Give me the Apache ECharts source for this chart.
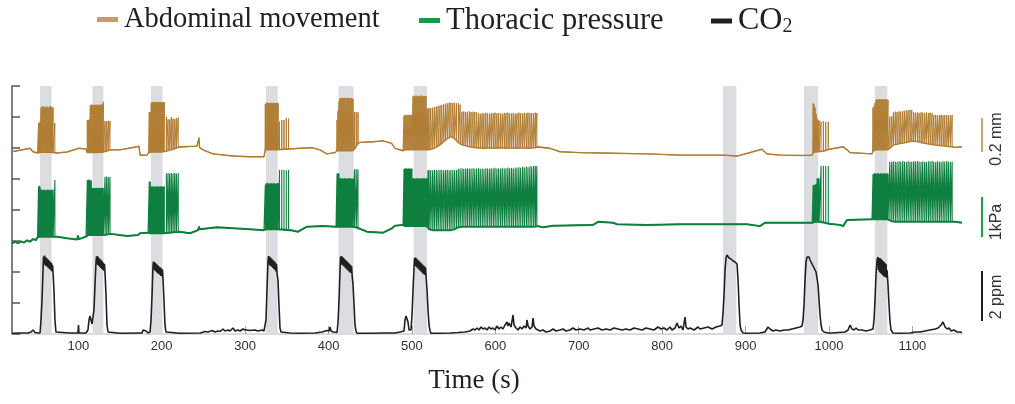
<!DOCTYPE html>
<html>
<head>
<meta charset="utf-8">
<title>Breathing response to CO2</title>
<script src="https://cdn.jsdelivr.net/npm/echarts@6/dist/echarts.min.js"></script>
<style>
  html, body { margin: 0; padding: 0; background: #ffffff; }
  #chart { width: 1015px; height: 404px; }
</style>
</head>
<body>
<div id="chart"></div>
<script>
// ---- Recording data (time in s) ----
// CO2 exposure windows [start, end]
const stimWindows = [[54, 68], [117, 130], [187, 201], [325, 339], [412, 430], [502, 518], [873, 889], [970, 987], [1055, 1070]];

// x-axis tick labels
const tickTimes = [100, 200, 300, 400, 500, 600, 700, 800, 900, 1000, 1100];

// Abdominal movement: slow baseline [t, level]
const abdBaseline = [
  [20.5, 5.88], [42.1, 5.99], [45.7, 5.88], [51.1, 5.84],
  [74.4, 5.84], [86.4, 5.87], [100.4, 5.99], [101.0, 6.04], [101.6, 5.99], [109.2, 5.97],
  [140.4, 5.94], [150.0, 5.94], [170.4, 6.04], [172.8, 6.06], [174.0, 5.77], [182.4, 5.77], [184.2, 5.84],
  [221.9, 6.04], [242.3, 6.06], [244.2, 6.06], [244.7, 6.32], [245.3, 6.02], [249.5, 5.94], [261.5, 5.81], [285.5, 5.74], [305.9, 5.72], [322.6, 5.72],
  [353.8, 5.97], [365.8, 5.99], [379.8, 6.01], [389.8, 5.94], [397.8, 5.81], [407.8, 5.85],
  [437.7, 6.18], [453.3, 6.20], [465.3, 6.23], [475.7, 6.15], [479.7, 5.99], [489.3, 5.91],
  [651.2, 6.04], [665.5, 5.99], [677.5, 5.88], [701.5, 5.85], [741.1, 5.83], [781.9, 5.81], [821.4, 5.77], [873.0, 5.77], [889.8, 5.74], [919.7, 5.96], [925.7, 5.81], [941.3, 5.77], [968.9, 5.76], [979.9, 5.77],
  [1001.3, 5.99], [1016.9, 6.04], [1021.7, 5.94], [1025.3, 5.85], [1051.6, 5.81],
  [1151.1, 6.02], [1159.5, 6.04]
];

// Abdominal movement: breaths [t, trough, peak]
const abdBreaths = [
  [52.3,5.85,6.80],[53.3,5.85,6.82],[54.3,5.85,6.85],[55.4,5.85,7.30],[56.6,5.86,7.33],[57.8,5.86,7.35],[59.0,5.86,7.32],[60.2,5.86,7.30],[61.4,5.86,7.34],[62.6,5.86,7.33],[63.8,5.86,7.30],[65.0,5.86,7.32],[66.2,5.86,7.35],[67.4,5.85,7.33],[68.6,5.85,7.31],[69.8,5.85,7.30],[71.9,5.84,6.81],
  [110.8,5.85,6.90],[112.0,5.85,6.90],[113.2,5.85,6.92],[114.4,5.85,7.38],[115.6,5.85,7.40],[116.8,5.85,7.39],[118.0,5.85,7.37],[119.2,5.85,7.40],[120.4,5.85,7.39],[121.6,5.85,7.38],[122.8,5.85,7.40],[124.0,5.85,7.39],[125.2,5.86,7.37],[126.4,5.86,7.40],[127.6,5.86,7.39],[128.8,5.86,7.41],[130.0,5.87,7.49],[132.0,5.88,6.87],[134.0,5.90,6.86],[136.0,5.92,6.88],[138.0,5.93,6.87],
  [185.1,5.86,7.16],[186.3,5.87,7.16],[187.5,5.87,7.46],[188.7,5.87,7.48],[189.9,5.87,7.47],[191.1,5.87,7.49],[192.3,5.87,7.48],[193.5,5.87,7.46],[194.7,5.87,7.48],[195.9,5.87,7.49],[197.1,5.87,7.47],[198.3,5.87,7.48],[199.5,5.87,7.46],[200.7,5.87,7.48],[201.9,5.88,7.47],[203.1,5.88,7.48],[205.6,5.90,7.01],[207.6,5.92,6.93],[209.6,5.93,6.92],[211.6,5.95,7.00],[213.6,5.96,6.95],[215.6,5.98,6.93],[217.6,6.00,6.97],[219.8,6.02,6.98],
  [324.2,5.94,7.42],[325.4,5.94,7.45],[326.6,5.94,7.46],[327.8,5.94,7.45],[329.0,5.94,7.44],[330.2,5.94,7.46],[331.4,5.94,7.45],[332.6,5.94,7.44],[333.8,5.94,7.46],[335.0,5.94,7.45],[336.2,5.94,7.44],[337.4,5.94,7.45],[338.6,5.94,7.46],[339.6,5.95,7.44],[341.2,5.95,6.85],[343.9,5.95,6.90],[346.6,5.96,6.90],[349.4,5.96,6.97],[352.1,5.97,6.95],
  [410.2,5.91,6.90],[411.4,5.91,7.20],[412.6,5.91,7.50],[413.8,5.91,7.60],[415.0,5.91,7.61],[416.2,5.91,7.62],[417.4,5.91,7.61],[418.6,5.91,7.60],[419.8,5.91,7.62],[421.0,5.91,7.61],[422.2,5.91,7.60],[423.4,5.91,7.62],[424.6,5.91,7.61],[425.8,5.91,7.60],[427.0,5.91,7.61],[428.2,5.91,7.60],[429.4,5.92,7.58],[431.1,5.95,7.16],[433.2,6.05,7.16],[435.3,6.15,7.15],
  [490.5,5.93,7.04],[491.7,5.94,7.06],[492.9,5.94,7.07],[494.1,5.94,7.05],[495.3,5.94,7.06],[496.5,5.94,7.07],[497.7,5.94,7.06],[498.9,5.94,7.05],[500.1,5.94,7.08],
  [501.3,5.94,7.66],[502.5,5.94,7.68],[503.7,5.94,7.67],[504.9,5.94,7.69],[506.1,5.94,7.68],[507.3,5.94,7.66],[508.5,5.94,7.68],[509.7,5.94,7.67],[510.9,5.94,7.69],[512.1,5.94,7.68],[513.3,5.94,7.66],[514.5,5.94,7.67],[515.7,5.94,7.68],[516.9,5.94,7.66],
  [518.1,5.94,7.28],[519.3,5.94,7.27],[520.5,5.94,7.28],
  [522.6,5.95,7.29],[524.9,5.97,7.30],[527.0,6.00,7.32],[529.3,6.03,7.34],[531.4,6.06,7.35],[533.7,6.10,7.37],[535.8,6.15,7.39],[538.1,6.20,7.41],[540.3,6.25,7.43],[542.4,6.30,7.44],[544.7,6.35,7.46],[546.8,6.37,7.46],
  [549.1,6.35,7.45],[551.2,6.30,7.46],[553.5,6.24,7.44],[555.7,6.17,7.45],[557.8,6.12,7.40],
  [560.1,6.10,7.17],[562.2,6.08,7.18],[564.5,6.07,7.16],[566.6,6.05,7.17],[568.9,6.04,7.18],[571.0,6.03,7.16],[573.3,6.02,7.17],[575.4,6.01,7.16],[577.6,6.00,7.15],
  [579.9,6.00,7.12],[582.0,6.00,7.10],[584.3,6.00,7.13],[586.4,5.99,7.11],[588.7,6.00,7.14],[590.8,6.00,7.12],[593.1,5.99,7.10],[595.2,6.00,7.13],[597.5,6.00,7.12],[599.6,5.99,7.14],[601.9,6.00,7.11],[604.0,6.00,7.13],[606.3,5.99,7.12],[608.4,6.00,7.10],[610.7,6.00,7.13],[612.8,5.99,7.12],[615.1,6.00,7.14],[617.2,6.00,7.11],[619.5,5.99,7.12],[621.6,6.00,7.13],[623.9,6.00,7.10],[626.0,5.99,7.12],[628.3,6.00,7.14],[630.4,6.00,7.12],[632.7,5.99,7.11],[634.8,6.00,7.13],[637.1,6.00,7.12],[639.2,5.99,7.14],[641.5,6.00,7.12],[643.6,6.00,7.13],[645.9,6.00,7.12],[648.0,6.01,7.14],[649.8,6.02,7.13],
  [981.0,5.86,7.44],[982.2,5.87,7.40],[983.4,5.87,7.30],[984.6,5.88,7.10],[985.8,5.88,6.95],[987.0,5.88,6.90],[988.2,5.88,6.88],[990.5,5.89,6.85],[993.3,5.90,6.86],[996.1,5.92,6.84],[999.2,5.95,6.85],
  [1052.8,5.90,7.30],[1054.0,5.92,7.35],[1055.2,5.93,7.45],[1056.4,5.94,7.55],[1057.6,5.94,7.57],[1058.8,5.94,7.56],[1060.0,5.94,7.58],[1061.2,5.94,7.57],[1062.4,5.94,7.56],[1063.6,5.94,7.58],[1064.8,5.94,7.57],[1066.0,5.94,7.56],[1067.2,5.94,7.57],[1068.4,5.94,7.58],[1069.6,5.94,7.56],[1070.8,5.95,7.55],
  [1073.0,5.98,7.01],[1075.2,6.04,7.02],[1077.3,6.10,7.15],[1079.6,6.11,7.17],[1081.7,6.12,7.16],[1084.0,6.13,7.18],[1086.1,6.15,7.17],[1088.4,6.16,7.19],[1090.5,6.17,7.20],[1092.8,6.18,7.21],[1094.9,6.19,7.22],[1097.2,6.21,7.23],[1099.3,6.22,7.22],[1101.6,6.23,7.15],[1103.7,6.22,7.14],[1106.0,6.21,7.15],[1108.1,6.19,7.13],[1110.4,6.18,7.15],[1112.5,6.16,7.14],[1114.8,6.15,7.12],[1116.9,6.14,7.15],[1119.2,6.13,7.13],[1121.3,6.12,7.14],[1123.6,6.11,7.12],[1125.7,6.10,7.06],[1128.0,6.09,7.07],[1130.1,6.09,7.05],[1132.4,6.08,7.06],[1134.5,6.07,7.07],[1136.8,6.07,7.05],[1138.9,6.06,7.06],[1141.2,6.06,7.07],[1143.3,6.05,7.05],[1145.6,6.05,7.06],[1147.7,6.04,7.06]
];

// Thoracic pressure: slow baseline [t, level]
const thorBaseline = [
  [20.5, 2.92], [24.1, 2.97], [27.7, 2.93], [31.3, 2.99], [34.9, 2.95], [38.5, 3.02], [42.1, 2.98], [45.7, 3.06], [49.3, 3.03], [51.1, 3.12],
  [74.4, 3.14], [86.4, 3.09], [98.4, 3.05], [99.6, 3.16], [100.8, 3.06], [109.2, 3.14],
  [139.2, 3.23], [158.4, 3.16], [171.6, 3.19], [174.0, 3.25], [183.6, 3.27],
  [221.9, 3.30], [233.9, 3.25], [243.5, 3.35], [244.7, 3.45], [245.9, 3.38], [266.3, 3.44], [285.5, 3.41], [305.9, 3.38], [322.6, 3.35],
  [355.0, 3.35], [363.4, 3.30], [374.2, 3.46], [393.4, 3.48], [409.0, 3.46],
  [436.5, 3.41], [446.1, 3.30], [465.3, 3.27], [476.1, 3.41], [479.7, 3.49], [489.3, 3.52],
  [651.2, 3.48], [657.2, 3.44], [669.2, 3.49], [717.1, 3.52], [723.1, 3.62], [741.1, 3.59], [745.9, 3.54], [781.9, 3.52], [821.4, 3.54], [901.7, 3.54], [917.3, 3.48], [923.3, 3.59], [979.9, 3.59],
  [1001.3, 3.55], [1013.3, 3.52], [1016.9, 3.48], [1021.7, 3.68], [1051.6, 3.70],
  [1151.1, 3.62], [1159.5, 3.59]
];

// Thoracic pressure: breaths [t, trough, peak]
const thorBreaths = [
  [52.3,3.14,4.76],[53.3,3.14,4.78],[54.3,3.14,4.75],[55.4,3.14,4.66],[56.6,3.14,4.65],[57.8,3.14,4.64],[59.0,3.14,4.66],[60.2,3.14,4.65],[61.4,3.14,4.63],[62.6,3.14,4.65],[63.8,3.14,4.66],[65.0,3.14,4.64],[66.2,3.14,4.65],[67.4,3.14,4.66],[68.6,3.14,4.64],[69.8,3.14,4.66],[71.9,3.14,4.97],
  [110.8,3.19,4.97],[112.0,3.19,4.98],[113.2,3.19,4.96],[114.4,3.19,4.97],[115.6,3.19,4.95],[116.8,3.19,4.71],[118.0,3.19,4.72],[119.2,3.19,4.70],[120.4,3.19,4.71],[121.6,3.19,4.72],[122.8,3.19,4.70],[124.0,3.19,4.71],[125.2,3.19,4.72],[126.4,3.19,4.70],[127.6,3.19,4.71],[128.8,3.19,4.72],[130.0,3.19,4.71],[132.0,3.20,5.07],[134.0,3.21,5.08],[136.0,3.22,5.06],[138.0,3.23,5.07],
  [185.1,3.25,4.92],[186.3,3.25,4.92],[187.5,3.25,4.76],[188.7,3.25,4.77],[189.9,3.25,4.75],[191.1,3.25,4.76],[192.3,3.25,4.77],[193.5,3.25,4.75],[194.7,3.25,4.76],[195.9,3.25,4.77],[197.1,3.25,4.75],[198.3,3.25,4.76],[199.5,3.25,4.77],[200.7,3.25,4.75],[201.9,3.25,4.76],[203.1,3.25,4.77],[205.6,3.26,5.18],[207.6,3.27,5.19],[209.6,3.27,5.18],[211.6,3.28,5.19],[213.6,3.28,5.18],[215.6,3.29,5.20],[217.6,3.29,5.18],[219.8,3.30,5.19],
  [324.2,3.38,4.82],[325.4,3.38,4.86],[326.6,3.38,4.87],[327.8,3.38,4.86],[329.0,3.38,4.85],[330.2,3.38,4.87],[331.4,3.38,4.86],[332.6,3.38,4.85],[333.8,3.38,4.87],[335.0,3.38,4.86],[336.2,3.38,4.85],[337.4,3.38,4.86],[338.6,3.38,4.87],[339.6,3.38,4.86],[341.2,3.37,5.29],[343.9,3.37,5.30],[346.6,3.36,5.29],[349.4,3.36,5.28],[352.1,3.35,5.29],
  [410.2,3.46,5.18],[411.4,3.46,5.19],[412.6,3.46,5.18],[413.8,3.46,5.03],[415.0,3.46,5.02],[416.2,3.46,5.03],[417.4,3.46,5.01],[418.6,3.46,5.02],[419.8,3.46,5.03],[421.0,3.46,5.02],[422.2,3.46,5.01],[423.4,3.46,5.03],[424.6,3.46,5.02],[425.8,3.46,5.03],[427.0,3.46,5.02],[428.2,3.46,5.01],[429.4,3.46,5.02],[431.1,3.45,5.31],[433.2,3.43,5.32],[435.3,3.42,5.31],
  [490.5,3.49,5.33],[491.7,3.48,5.34],[492.9,3.48,5.35],[494.1,3.48,5.34],[495.3,3.48,5.33],[496.5,3.48,5.35],[497.7,3.48,5.34],[498.9,3.48,5.33],[500.1,3.48,5.34],
  [501.3,3.48,5.02],[502.5,3.48,5.03],[503.7,3.48,5.02],[504.9,3.48,5.01],[506.1,3.48,5.03],[507.3,3.48,5.02],[508.5,3.48,5.03],[509.7,3.48,5.02],[510.9,3.48,5.01],[512.1,3.48,5.03],[513.3,3.48,5.02],[514.5,3.48,5.03],[515.7,3.48,5.02],[516.9,3.48,5.01],[518.1,3.47,5.03],
  [519.3,3.42,5.29],[520.5,3.38,5.28],
  [522.6,3.35,5.29],[524.9,3.35,5.28],[527.0,3.35,5.30],[529.3,3.35,5.29],[531.4,3.35,5.28],[533.7,3.35,5.30],[535.8,3.35,5.29],[538.1,3.35,5.28],[540.3,3.35,5.29],[542.4,3.35,5.30],[544.7,3.35,5.28],[546.8,3.35,5.29],[549.1,3.36,5.30],[551.2,3.38,5.28],[553.5,3.41,5.29],[555.7,3.44,5.33],[557.8,3.46,5.34],
  [560.1,3.46,5.35],[562.2,3.46,5.33],[564.5,3.46,5.34],[566.6,3.46,5.35],[568.9,3.46,5.33],[571.0,3.46,5.34],[573.3,3.46,5.35],[575.4,3.46,5.33],[577.6,3.46,5.34],[579.9,3.46,5.35],[582.0,3.46,5.33],[584.3,3.46,5.34],[586.4,3.46,5.32],[588.7,3.46,5.35],[590.8,3.46,5.34],[593.1,3.46,5.33],[595.2,3.46,5.35],[597.5,3.46,5.34],[599.6,3.46,5.36],[601.9,3.46,5.34],[604.0,3.46,5.35],[606.3,3.46,5.33],[608.4,3.46,5.36],[610.7,3.46,5.34],[612.8,3.46,5.35],[615.1,3.46,5.37],[617.2,3.46,5.35],[619.5,3.46,5.36],[621.6,3.46,5.34],[623.9,3.46,5.37],[626.0,3.46,5.36],[628.3,3.46,5.38],[630.4,3.46,5.36],[632.7,3.46,5.39],[634.8,3.46,5.37],[637.1,3.46,5.40],[639.2,3.46,5.38],[641.5,3.46,5.41],[643.6,3.46,5.40],[645.9,3.46,5.42],[648.0,3.47,5.41],[649.8,3.48,5.42],
  [981.0,3.61,4.81],[982.2,3.62,4.81],[983.4,3.62,4.82],[984.6,3.62,4.85],[985.8,3.62,5.02],[987.0,3.62,5.03],[988.2,3.62,5.02],[990.5,3.61,5.42],[993.3,3.60,5.43],[996.1,3.58,5.42],[999.2,3.56,5.42],
  [1052.8,3.70,5.15],[1054.0,3.70,5.18],[1055.2,3.70,5.19],[1056.4,3.70,5.18],[1057.6,3.70,5.17],[1058.8,3.70,5.19],[1060.0,3.70,5.18],[1061.2,3.70,5.17],[1062.4,3.70,5.19],[1063.6,3.70,5.18],[1064.8,3.70,5.17],[1066.0,3.70,5.19],[1067.2,3.70,5.18],[1068.4,3.70,5.17],[1069.6,3.70,5.19],[1070.8,3.69,5.18],
  [1073.0,3.66,5.56],[1075.2,3.64,5.55],[1077.3,3.63,5.57],[1079.6,3.62,5.56],[1081.7,3.62,5.55],[1084.0,3.62,5.57],[1086.1,3.62,5.56],[1088.4,3.62,5.58],[1090.5,3.62,5.56],[1092.8,3.62,5.55],[1094.9,3.62,5.57],[1097.2,3.62,5.56],[1099.3,3.62,5.55],[1101.6,3.62,5.57],[1103.7,3.62,5.56],[1106.0,3.62,5.58],[1108.1,3.62,5.56],[1110.4,3.62,5.55],[1112.5,3.62,5.57],[1114.8,3.62,5.56],[1116.9,3.62,5.55],[1119.2,3.62,5.57],[1121.3,3.62,5.56],[1123.6,3.62,5.58],[1125.7,3.62,5.56],[1128.0,3.62,5.55],[1130.1,3.62,5.57],[1132.4,3.62,5.56],[1134.5,3.62,5.55],[1136.8,3.62,5.57],[1138.9,3.62,5.56],[1141.2,3.62,5.58],[1143.3,3.62,5.56],[1145.6,3.62,5.55],[1147.7,3.62,5.56]
];

// CO2 trace [t, ppm]
const co2Trace = [
  [20.5,0.03],[30.1,0.04],[39.7,0.04],[43.3,0.08],[45.7,0.16],[48.1,0.06],[51.7,0.04],[54.1,0.04],[55.3,0.56],[56.5,1.36],[57.7,2.56],
  [58.3,3.10],[58.9,2.80],[59.5,3.14],[60.1,2.76],[60.7,3.08],[61.3,2.72],[61.9,3.04],[62.5,2.70],[63.1,3.00],[63.7,2.66],[64.3,2.96],[64.9,2.62],[65.5,2.92],[66.1,2.58],[66.7,2.88],[67.3,2.54],[67.9,2.84],[68.5,2.50],[69.1,2.76],[69.7,2.46],
  [70.8,1.76],[72.0,0.56],[73.2,0.08],[74.4,0.03],
  [90.0,0.04],[99.6,0.04],[100.2,0.36],[100.8,0.04],[109.2,0.04],[111.6,0.16],[112.8,0.56],[114.0,0.72],[115.2,0.64],[116.4,0.40],[117.6,0.48],[118.8,0.96],[120.0,1.96],[121.2,2.88],
  [121.8,3.10],[122.4,2.78],[123.0,3.12],[123.6,2.76],[124.2,3.06],[124.8,2.72],[125.4,3.02],[126.0,2.68],[126.6,2.98],[127.2,2.64],[127.8,2.94],[128.4,2.60],[129.0,2.90],[129.6,2.56],[130.2,2.84],[130.8,2.52],[131.4,2.80],[132.0,2.46],
  [133.2,1.56],[134.4,0.36],[135.6,0.08],[136.8,0.03],
  [150.0,0.03],[174.0,0.04],[175.2,0.12],[176.4,0.04],[177.6,0.16],[178.8,0.08],[181.2,0.12],[183.6,0.04],[186.0,0.08],[187.2,0.56],[188.4,1.56],
  [189.5,2.70],[190.1,2.90],[190.7,2.58],[191.3,2.88],[191.9,2.54],[192.5,2.84],[193.1,2.50],[193.7,2.80],[194.3,2.46],[194.9,2.76],[195.5,2.42],[196.1,2.72],[196.7,2.40],[197.3,2.68],[197.9,2.36],[198.5,2.66],[199.1,2.32],[199.7,2.62],[200.3,2.30],[200.9,2.58],[201.5,2.24],
  [202.7,1.36],[203.9,0.36],[205.1,0.08],[206.3,0.03],
  [221.9,0.03],[245.9,0.04],[248.3,0.06],[251.9,0.10],[255.5,0.08],[260.3,0.14],[263.9,0.08],[267.5,0.12],[269.9,0.10],[273.5,0.20],[275.9,0.12],[279.5,0.16],[281.9,0.12],[285.5,0.24],[287.9,0.12],[291.5,0.16],[293.9,0.12],[297.5,0.20],[299.9,0.16],[302.3,0.16],[305.9,0.14],[311.8,0.16],[315.4,0.12],[320.2,0.16],[322.6,0.12],[323.8,0.20],
  [325.0,0.56],[326.2,1.76],[327.4,2.88],
  [328.0,3.12],[328.6,2.78],[329.2,3.10],[329.8,2.74],[330.4,3.06],[331.0,2.72],[331.6,3.02],[332.2,2.68],[332.8,2.98],[333.4,2.64],[334.0,2.94],[334.6,2.60],[335.2,2.90],[335.8,2.56],[336.4,2.86],[337.0,2.50],[337.6,2.80],[338.2,2.44],
  [339.4,2.16],[340.6,1.16],[341.8,0.24],[343.0,0.08],[344.2,0.03],
  [353.8,0.04],[365.8,0.03],[383.8,0.04],[392.2,0.08],[398.2,0.14],[400.6,0.12],[401.8,0.28],[403.0,0.12],[405.4,0.08],[410.2,0.06],
  [411.4,0.48],[412.6,1.36],[413.8,2.56],
  [414.4,3.10],[415.0,2.80],[415.6,3.12],[416.2,2.76],[416.8,3.08],[417.4,2.74],[418.0,3.04],[418.6,2.70],[419.2,3.00],[419.8,2.66],[420.4,2.96],[421.0,2.62],[421.6,2.92],[422.2,2.58],[422.8,2.88],[423.4,2.54],[424.0,2.84],[424.6,2.50],[425.2,2.80],[425.8,2.46],[426.4,2.76],[427.0,2.44],[427.6,2.72],[428.2,2.38],
  [429.4,1.96],[430.6,1.16],[431.7,0.36],[432.9,0.12],[434.1,0.03],
  [449.7,0.03],[467.7,0.04],[479.7,0.04],[485.7,0.08],[490.5,0.12],[491.7,0.56],[492.9,0.72],[494.1,0.64],[495.3,0.48],[496.5,0.16],[497.7,0.08],[498.9,0.16],[500.1,0.76],[501.3,1.76],[502.5,2.64],
  [503.1,3.04],[503.7,2.72],[504.3,3.06],[504.9,2.70],[505.5,3.02],[506.1,2.66],[506.7,2.98],[507.3,2.62],[507.9,2.94],[508.5,2.58],[509.1,2.90],[509.7,2.54],[510.3,2.86],[510.9,2.50],[511.5,2.82],[512.1,2.46],[512.7,2.78],[513.3,2.42],[513.9,2.74],[514.5,2.38],[515.1,2.70],[515.7,2.36],[516.3,2.66],[516.9,2.32],
  [518.1,1.76],[519.3,0.96],[520.5,0.36],[521.7,0.12],[522.9,0.03],
  [533.7,0.03],[545.7,0.04],[555.2,0.06],[563.6,0.08],[569.6,0.12],[573.2,0.20],[575.6,0.16],[578.0,0.24],[580.4,0.16],[582.8,0.28],[585.2,0.20],[587.6,0.24],[590.0,0.16],[592.4,0.28],[594.8,0.20],[597.2,0.24],[599.6,0.16],[602.0,0.32],[604.4,0.20],[606.8,0.28],[609.2,0.20],[611.6,0.36],[614.0,0.48],[615.2,0.32],[616.4,0.44],[618.8,0.28],[621.2,0.76],[622.4,0.36],[624.8,0.24],[627.2,0.16],[629.6,0.28],[632.0,0.20],[634.4,0.32],[636.8,0.24],[638.0,0.56],[639.2,0.32],[641.6,0.20],[644.0,0.28],[645.2,0.64],[646.4,0.32],[648.8,0.20],
  [651.2,0.16],[653.6,0.12],[657.2,0.16],[660.8,0.08],[665.6,0.12],[669.2,0.20],[672.8,0.12],[677.5,0.16],[681.1,0.20],[684.7,0.12],[689.5,0.16],[693.1,0.24],[696.7,0.16],[701.5,0.20],[706.3,0.16],[711.1,0.24],[713.5,0.16],[718.3,0.20],[723.1,0.24],[727.9,0.16],[732.7,0.20],[737.5,0.16],[742.3,0.24],[747.1,0.20],[751.9,0.16],[756.7,0.20],[761.5,0.16],[766.3,0.24],[771.1,0.20],[775.9,0.16],[780.7,0.24],[785.5,0.20],[790.2,0.16],[795.0,0.28],[798.6,0.20],[802.2,0.24],[805.8,0.16],[809.4,0.28],[811.8,0.16],[815.4,0.24],[817.8,0.44],[820.2,0.24],[822.6,0.32],[825.0,0.16],[827.4,0.68],[828.6,0.28],[831.0,0.20],[833.4,0.24],[838.2,0.16],[843.0,0.28],[845.4,0.20],[850.2,0.24],[855.0,0.28],[859.8,0.20],[864.6,0.28],[869.4,0.32],[871.8,0.36],
  [873.0,0.88],[874.2,1.56],[875.4,2.56],[876.6,3.04],[877.8,3.16],[879.0,3.12],[880.2,3.04],[881.4,3.08],[882.6,3.00],[883.8,2.96],[885.0,2.92],[886.2,2.88],[887.4,2.88],[888.6,2.84],[889.8,2.80],[891.0,2.16],[892.2,1.16],[893.4,0.36],[894.6,0.16],[897.0,0.04],[901.7,0.03],
  [917.3,0.04],[923.3,0.08],[926.9,0.28],[929.3,0.20],[932.9,0.12],[936.5,0.16],[941.3,0.12],[946.1,0.16],[950.9,0.16],[955.7,0.20],[960.5,0.24],[965.3,0.28],[967.7,0.32],
  [968.9,0.56],[970.1,1.16],[971.3,2.16],[972.5,2.88],[973.7,3.08],[974.9,3.12],[976.1,3.08],[977.3,2.96],[978.5,2.88],[979.7,2.80],[980.9,2.72],[982.1,2.64],[983.3,2.56],[984.5,2.48],[985.7,2.40],[986.9,1.96],[988.1,1.36],[989.3,0.76],[990.5,0.36],[991.7,0.16],[994.1,0.08],[998.9,0.04],
  [1003.7,0.04],[1010.9,0.06],[1019.3,0.08],[1022.9,0.16],[1025.3,0.36],[1027.7,0.20],[1030.1,0.16],[1032.5,0.24],[1034.9,0.16],[1039.7,0.16],[1044.4,0.12],[1049.2,0.16],[1052.8,0.20],
  [1054.0,0.56],[1055.2,1.36],[1056.4,2.36],[1057.6,2.96],[1058.8,3.08],[1059.4,2.56],[1060.0,3.04],[1060.6,2.48],[1061.2,3.04],[1061.8,2.44],[1062.4,3.00],[1063.0,2.40],[1063.6,2.96],[1064.2,2.36],[1064.8,2.92],[1065.4,2.32],[1066.0,2.88],[1066.6,2.28],[1067.2,2.84],[1067.8,2.28],[1068.4,2.80],[1069.0,2.24],[1069.6,2.56],[1070.8,1.96],[1072.0,1.16],[1073.2,0.48],[1074.4,0.16],[1076.8,0.04],
  [1085.2,0.03],[1097.2,0.04],[1103.2,0.08],[1109.2,0.08],[1115.2,0.12],[1121.2,0.16],[1127.2,0.20],[1130.8,0.24],[1134.4,0.36],[1136.8,0.48],[1139.2,0.28],[1141.6,0.20],[1144.0,0.24],[1146.4,0.12],[1149.9,0.16],[1153.5,0.08],[1157.1,0.08],[1159.5,0.06]
];

// ---- Build line data ----
// full trace: baseline plus one up/down stroke per breath
function buildTrace(baseline, breaths) {
  const pts = baseline.map(p => [p[0], p[1]]);
  breaths.forEach(b => {
    pts.push([b[0], b[1]], [b[0], b[2]], [b[0], b[1]]);
  });
  return sortByTime(pts);
}
// floor of the trace: baseline joined through the breath troughs
function buildFloor(baseline, breaths) {
  const pts = baseline.map(p => [p[0], p[1]]);
  breaths.forEach(b => pts.push([b[0], b[1]]));
  return sortByTime(pts);
}
function sortByTime(pts) {
  return pts
    .map((p, i) => ({ p, i }))
    .sort((a, b) => (a.p[0] - b.p[0]) || (a.i - b.i))
    .map(o => o.p);
}

const COLORS = {
  abd: '#b07c32',
  thor: '#0e7f3e',
  co2: '#231f20'
};

const chart = echarts.init(document.getElementById('chart'), null, { renderer: 'canvas' });

const serif = '"Liberation Serif", "Times New Roman", serif';
const sans = '"Liberation Sans", Arial, sans-serif';

function legendItem(name, color, left, size) {
  return {
    data: [{ name: name, itemStyle: { color: color } }],
    left: left,
    top: 5,
    padding: 0,
    icon: 'rect',
    itemWidth: 21,
    itemHeight: 5,
    itemGap: 6,
    selectedMode: false,
    formatter: n => n === 'CO2' ? '{n|CO}{s|2}' : n,
    textStyle: {
      fontFamily: serif,
      fontSize: size,
      color: '#231f20',
      padding: [0, 0, 0, 1],
      rich: {
        n: { fontFamily: serif, fontSize: size, color: '#231f20' },
        s: { fontFamily: serif, fontSize: Math.round(size * 0.62), color: '#231f20', verticalAlign: 'bottom', padding: [10, 0, 0, 0] }
      }
    }
  };
}

const lineBase = { type: 'line', showSymbol: false, symbol: 'none', silent: true };

chart.setOption({
  animation: false,
  backgroundColor: '#ffffff',
  grid: { left: 12, right: 53, top: 86, bottom: 70, containLabel: false },
  legend: [
    legendItem('Abdominal movement', '#c89c6a', 97, 28.5),
    legendItem('Thoracic pressure', '#159a4a', 419, 30.5),
    legendItem('CO2', '#231f20', 711, 32)
  ],
  xAxis: {
    type: 'value',
    min: 20.5,
    max: 1159.5,
    axisLine: { show: true, lineStyle: { color: '#cfcfcf', width: 1.5 } },
    axisTick: { show: true, inside: true, length: 8, customValues: tickTimes, lineStyle: { color: '#a0a0a0', width: 1 } },
    axisLabel: { customValues: tickTimes, formatter: v => String(v), fontFamily: sans, fontSize: 13, color: '#333', margin: 6 },
    splitLine: { show: false }
  },
  yAxis: [
    {
      type: 'value',
      min: 0,
      max: 8,
      interval: 1,
      axisLine: { show: true, lineStyle: { color: '#555', width: 1.5 } },
      axisTick: { show: true, inside: true, length: 8, lineStyle: { color: '#555', width: 1.5 } },
      axisLabel: { show: false },
      splitLine: { show: false }
    },
    {
      // CO2 in ppm (2 ppm per scale bar)
      type: 'value',
      min: 0,
      max: 9.92,
      show: false,
      splitLine: { show: false }
    }
  ],
  series: [
    {
      ...lineBase,
      name: 'exposure',
      data: [],
      z: 1,
      markArea: {
        silent: true,
        itemStyle: { color: '#dcdde0' },
        data: stimWindows.map(w => [{ xAxis: w[0] }, { xAxis: w[1] }])
      }
    },
    {
      ...lineBase,
      name: 'CO2',
      yAxisIndex: 1,
      z: 2,
      data: co2Trace,
      itemStyle: { color: COLORS.co2 },
      lineStyle: { color: COLORS.co2, width: 1.6, join: 'bevel' }
    },
    {
      ...lineBase,
      name: 'Thoracic pressure',
      z: 3,
      data: buildFloor(thorBaseline, thorBreaths),
      itemStyle: { color: COLORS.thor },
      lineStyle: { color: COLORS.thor, width: 2, join: 'round' }
    },
    {
      ...lineBase,
      name: 'Thoracic pressure',
      z: 3,
      data: buildTrace(thorBaseline, thorBreaths),
      itemStyle: { color: COLORS.thor },
      lineStyle: { color: COLORS.thor, width: 1.1, join: 'bevel' }
    },
    {
      ...lineBase,
      name: 'Abdominal movement',
      z: 4,
      data: buildFloor(abdBaseline, abdBreaths),
      itemStyle: { color: COLORS.abd },
      lineStyle: { color: COLORS.abd, width: 1.4, join: 'round' }
    },
    {
      ...lineBase,
      name: 'Abdominal movement',
      z: 4,
      data: buildTrace(abdBaseline, abdBreaths),
      itemStyle: { color: COLORS.abd },
      lineStyle: { color: COLORS.abd, width: 1.0, join: 'bevel' }
    }
  ],
  graphic: [
    // scale bars with their units
    { type: 'line', shape: { x1: 982, y1: 118, x2: 982, y2: 152 }, style: { stroke: '#b98a4c', lineWidth: 1.5 } },
    { type: 'line', shape: { x1: 982, y1: 197, x2: 982, y2: 237 }, style: { stroke: '#1f9e52', lineWidth: 2 } },
    { type: 'line', shape: { x1: 982, y1: 271, x2: 982, y2: 321 }, style: { stroke: '#231f20', lineWidth: 2 } },
    { type: 'text', x: 997, y: 139, rotation: Math.PI / 2, style: { text: '0.2 mm', font: '16px ' + sans, fill: '#333', align: 'center', verticalAlign: 'middle' } },
    { type: 'text', x: 997, y: 222, rotation: Math.PI / 2, style: { text: '1kPa', font: '16px ' + sans, fill: '#333', align: 'center', verticalAlign: 'middle' } },
    { type: 'text', x: 997, y: 297, rotation: Math.PI / 2, style: { text: '2 ppm', font: '16px ' + sans, fill: '#333', align: 'center', verticalAlign: 'middle' } },
    // axis title
    { type: 'text', x: 474, y: 381, style: { text: 'Time (s)', font: '27px ' + serif, fill: '#231f20', align: 'center', verticalAlign: 'middle' } }
  ]
});
</script>
</body>
</html>
